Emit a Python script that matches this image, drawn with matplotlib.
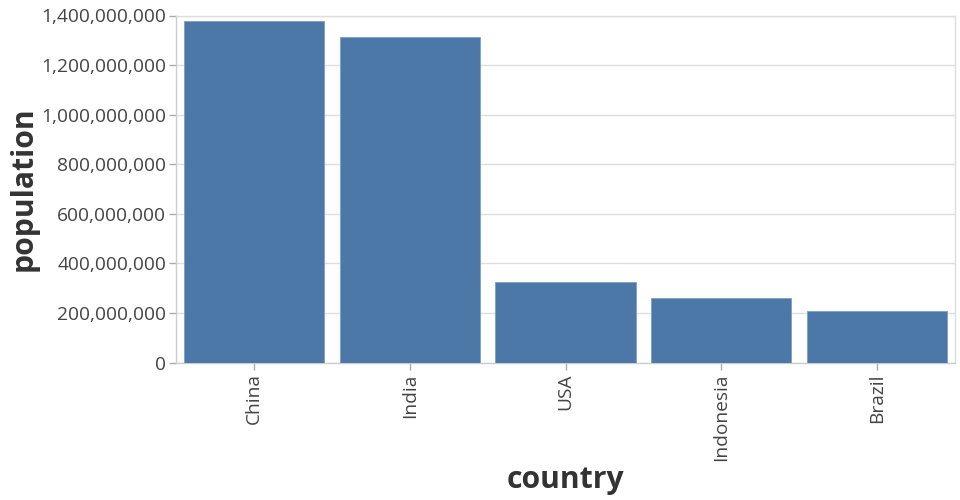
import matplotlib
matplotlib.use("Agg")
import matplotlib.pyplot as plt
from matplotlib.ticker import FuncFormatter, MultipleLocator

countries = ["China", "India", "USA", "Indonesia", "Brazil"]
population = [1378000000, 1313000000, 323500000, 259000000, 209000000]

plt.rcParams['font.family'] = ['Open Sans', 'DejaVu Sans']

fig = plt.figure(figsize=(9.6, 5.0), dpi=100)
ax = fig.add_axes([176/960, (500-362.5)/500, (955-176)/960, (362.5-15.5)/500])

x = list(range(len(countries)))
ax.bar(x, population, width=0.9, color="#4c78a8", edgecolor="#7f9fc4", linewidth=0.6, zorder=3)
ax.set_xlim(-0.5, len(countries) - 0.5)
ax.set_ylim(0, 1.4e9)
ax.yaxis.set_major_locator(MultipleLocator(2e8))
ax.yaxis.set_major_formatter(FuncFormatter(lambda v, p: f"{int(round(v)):,}"))
ax.set_xticks(x)
ax.set_xticklabels(countries, rotation=90, va="top")

ax.grid(axis="y", color="#dddddd", linewidth=1, zorder=0)
for s in ["top", "right"]:
    ax.spines[s].set_color("#dddddd")
for s in ["left", "bottom"]:
    ax.spines[s].set_color("#cccccc")
for s in ax.spines.values():
    s.set_linewidth(1)

ax.tick_params(axis="both", colors="#aaaaaa", length=5, width=1, labelsize=13.8, labelcolor="#444444")
ax.tick_params(axis="x", pad=3)
ax.tick_params(axis="y", pad=2)

ax.set_xlabel("country", fontsize=21.7, fontweight="bold", color="#333333", labelpad=3)
ax.set_ylabel("population", fontsize=21.7, fontweight="bold", color="#333333", labelpad=2)

fig.savefig("out.png", dpi=100)
